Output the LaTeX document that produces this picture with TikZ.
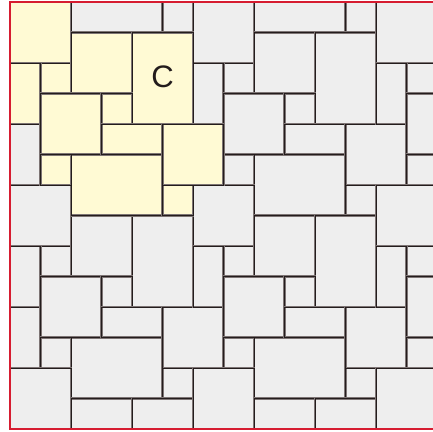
\documentclass[tikz,border=0pt]{standalone}
\usepackage{fontspec}
\usepackage{tikz}
\newfontfamily\labelfont{Liberation Sans}
\definecolor{tilegrey}{RGB}{238,238,238}
\definecolor{tileyellow}{RGB}{255,250,212}
\definecolor{tileedge}{RGB}{125,116,116}
\definecolor{tilecore}{RGB}{35,28,28}
\definecolor{framered}{RGB}{214,28,48}
\newcommand{\basetiles}{0/0/2/2, 2/5/5/7, 5/6/6/7, 1/2/2/3, 0/2/1/4, 2/1/4/3,
  4/1/6/4, 1/3/3/5, 3/3/4/4, 3/4/5/5, 5/4/7/6, 1/5/2/6}

\begin{document}
\begin{tikzpicture}[x=1cm,y=-1cm,
  tile/.style={draw=tileedge, line width=2.2pt,
    postaction={draw=tilecore, line width=0.8pt}}]
  \clip (-0.33,-0.07) rectangle (13.87,14.07);

  \begin{scope}
    \clip (0,0) rectangle (14,14);
    % the periodic tiling, period 6 both ways
    \foreach \dx in {-6,0,6,12} {
      \foreach \dy in {-6,0,6,12} {
        \foreach \xa/\ya/\xb/\yb in \basetiles {
          \fill[tilegrey,tile] (\xa+\dx,\ya+\dy) rectangle (\xb+\dx,\yb+\dy);
        }
      }
    }
    % one period cell
    \foreach \xa/\ya/\xb/\yb in \basetiles {
      \fill[tileyellow,tile] (\xa,\ya) rectangle (\xb,\yb);
    }
  \end{scope}

  \draw[framered, line width=1.4pt] (0,0) rectangle (14,14);

  \node[font=\labelfont\fontsize{29}{31}\selectfont, text=tilecore] (cellC) at (5,2.46) {C};
\end{tikzpicture}
\end{document}
